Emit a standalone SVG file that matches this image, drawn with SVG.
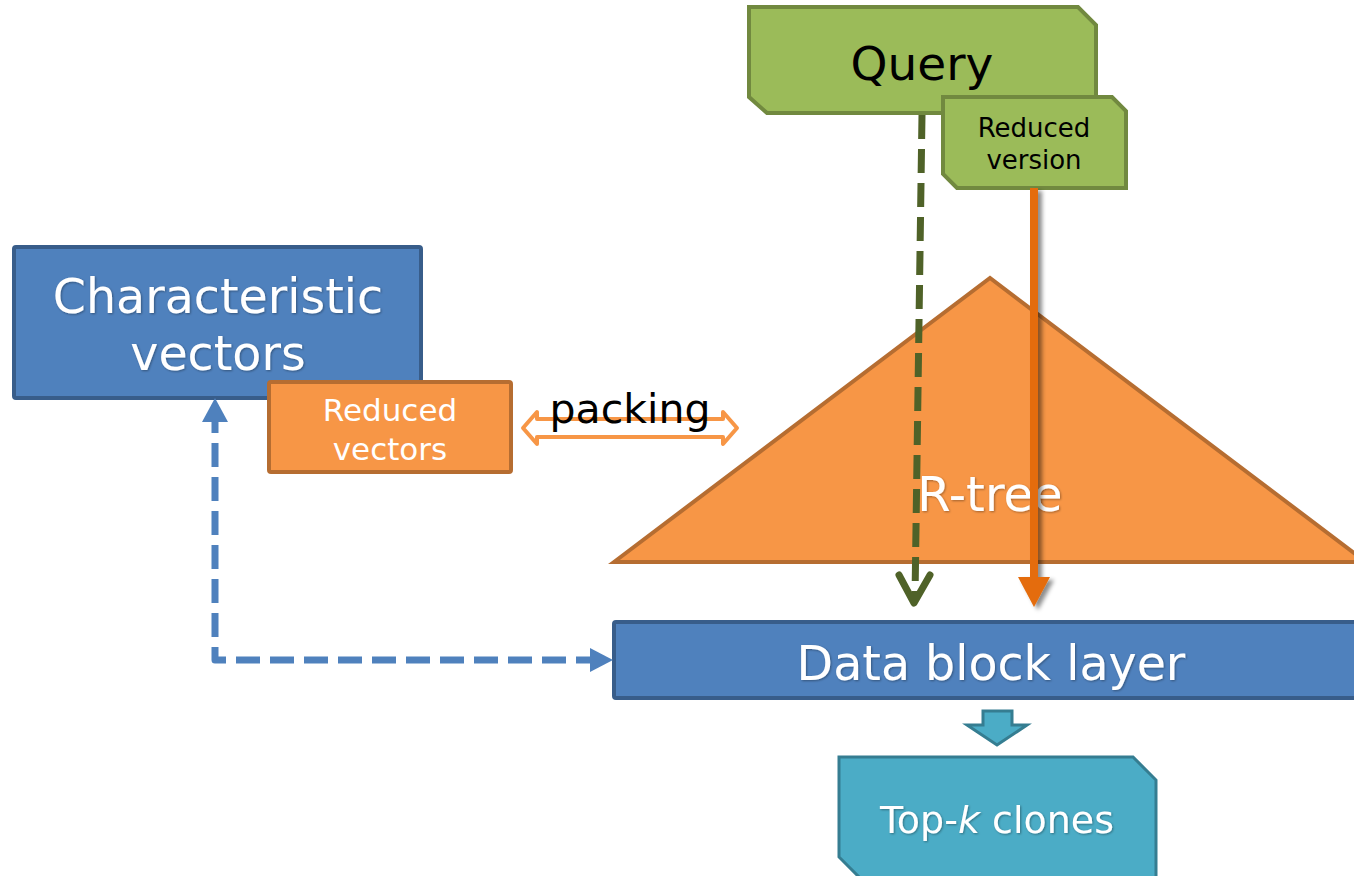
<svg xmlns="http://www.w3.org/2000/svg" width="1354" height="876" viewBox="0 0 1354 876">
<style>
text{font-family:"DejaVu Sans","Liberation Sans",sans-serif;text-anchor:middle}
.blue{fill:#4F81BD;stroke:#385D8A;stroke-width:4}
.orange{fill:#F79646;stroke:#B66D31;stroke-width:4}
.green{fill:#9BBB59;stroke:#71893F;stroke-width:4}
.teal{fill:#4BACC6;stroke:#357D91;stroke-width:3}
.w{fill:#fff}
.k{fill:#000}
</style>
<defs>
<filter id="sh" x="-50%" y="-5%" width="200%" height="110%">
<feDropShadow dx="4" dy="3" stdDeviation="2" flood-color="#000" flood-opacity="0.45"/>
</filter>
<filter id="ts" x="-5%" y="-20%" width="110%" height="140%">
<feDropShadow dx="1" dy="1" stdDeviation="1" flood-color="#000" flood-opacity="0.35"/>
</filter>
</defs>

<g id="rtree">
<polygon class="orange" points="614,562 990,278 1366,562"/>
<text x="990" y="511" font-size="48" class="w" filter="url(#ts)">R-tree</text>
</g>

<g id="datablock">
<rect class="blue" x="614" y="622" width="750" height="76" rx="2"/>
<text x="991" y="680" font-size="47.5" class="w" filter="url(#ts)">Data block layer</text>
</g>

<g id="charvec">
<rect class="blue" x="14" y="247" width="407" height="151" rx="2"/>
<text x="218" y="313" font-size="47.5" class="w" filter="url(#ts)">Characteristic</text>
<text x="218" y="370" font-size="47.5" class="w" filter="url(#ts)">vectors</text>
</g>

<g id="redvec">
<rect class="orange" x="269" y="382" width="242" height="90" rx="2"/>
<text x="390" y="421" font-size="31" class="w">Reduced</text>
<text x="390" y="460" font-size="31" class="w">vectors</text>
</g>

<g id="query">
<polygon class="green" points="749,7 1078,7 1096,25 1096,113 767,113 749,97"/>
<text x="922" y="80" font-size="47" class="k">Query</text>
</g>

<g id="redversion">
<polygon class="green" points="943,97 1112,97 1126,111 1126,188 957,188 943,174"/>
<text x="1034" y="137" font-size="26" class="k">Reduced</text>
<text x="1034" y="169" font-size="26" class="k">version</text>
</g>

<g id="topk">
<polygon class="teal" points="839,757 1133,757 1156,780 1156,880 862,880 839,857"/>
<text x="997" y="833" font-size="38" class="w" filter="url(#ts)">Top-<tspan font-style="italic">k</tspan> clones</text>
</g>

<g id="connectors">
<path d="M600,660 L215,660 L215,416" fill="none" stroke="#4F81BD" stroke-width="7" stroke-dasharray="24,10" stroke-linejoin="round"/>
<polygon points="215,398 202,422 228,422" fill="#4F81BD"/>
<polygon points="613,660 590,648 590,672" fill="#4F81BD"/>

<path d="M523,428 L537,412 L537,419 L723,419 L723,412 L737,428 L723,444 L723,437 L537,437 L537,444 Z" fill="#fff" stroke="#F79646" stroke-width="4" stroke-linejoin="round"/>
<text x="630" y="423" font-size="41" class="k">packing</text>

<path d="M922,115 L915,598" fill="none" stroke="#4F6228" stroke-width="7" stroke-dasharray="24,10"/>
<polyline points="899,575 914,603 930,575" fill="none" stroke="#4F6228" stroke-width="7" stroke-linecap="round" stroke-linejoin="round"/>

<g filter="url(#sh)">
<line x1="1034" y1="188" x2="1034" y2="580" stroke="#E46C0A" stroke-width="8"/>
<polygon points="1018,577 1050,577 1034,607" fill="#E46C0A"/>
</g>

<polygon class="teal" points="983,711 1012,711 1012,725 1027,725 997,745 967,725 983,725"/>
</g>
</svg>
